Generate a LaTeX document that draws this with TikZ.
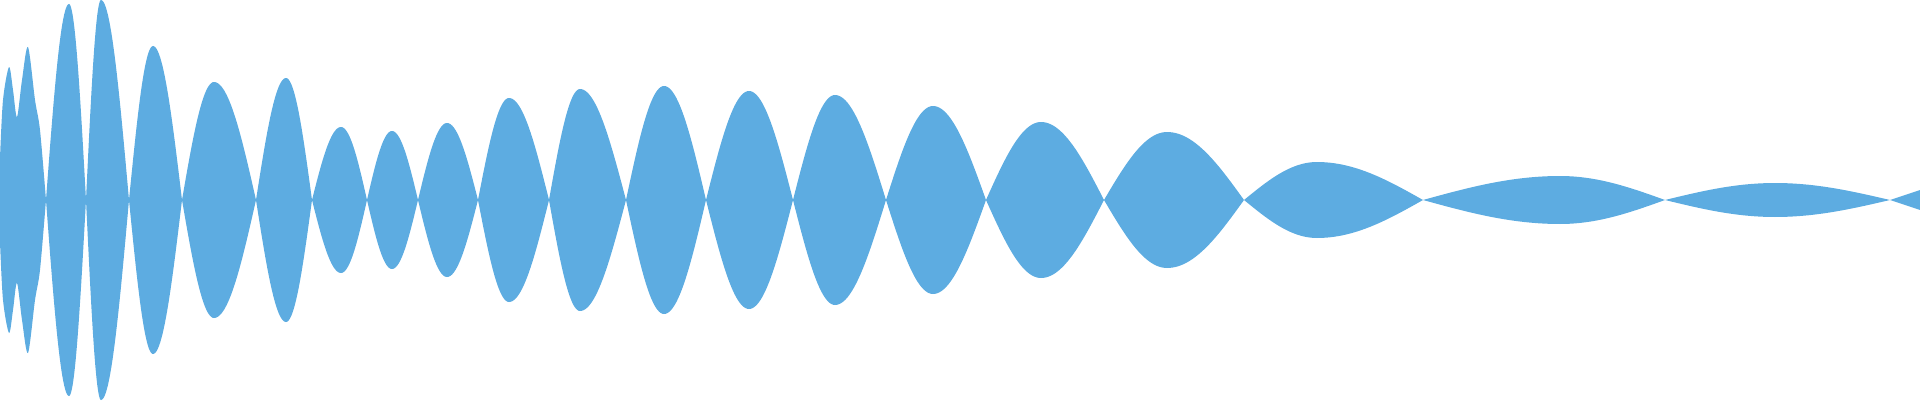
\documentclass[tikz,border=0pt]{standalone}
\definecolor{wavecol}{HTML}{5DACE1}
\newcommand\wlobe[4]{%
 \fill[wave] plot[domain=#1:#2,samples=25] (\x,{200+#4*sin(90*(\x-#1)/(#2-#1))})
 -- plot[domain=#2:#3,samples=25] (\x,{200+#4*sin(90*(#3-\x)/(#3-#2))})
 -- plot[domain=#3:#2,samples=25] (\x,{200-#4*sin(90*(#3-\x)/(#3-#2))})
 -- plot[domain=#2:#1,samples=25] (\x,{200-#4*sin(90*(\x-#1)/(#2-#1))}) -- cycle;}
\begin{document}
\begin{tikzpicture}[x=1pt,y=1pt,wave/.style={fill=wavecol}]
\useasboundingbox (0,0) rectangle (1920,400);
\fill[wave] plot[smooth] coordinates {(0,242)(3,300)(9,333)(13,310)(17,283)(22,320)(28,353)(35,300)(40,270)(46,200)}
  -- plot[smooth] coordinates {(46,200)(40,130)(35,100)(28,47)(22,80)(17,117)(13,90)(9,67)(3,100)(0,158)} -- cycle;
\foreach \a/\p/\b/\h in {46/69/86/196, 86/101/129/200, 129/153/182/154, 182/214/256/118,
  256/286/312/122, 312/341/367/73, 367/392/418/69, 418/447/478/77, 478/509/549/102,
  549/580/626/111, 626/664/706/114, 706/749/793/109, 793/835/886/105, 886/933/986/94,
  986/1041/1104/78, 1104/1167/1244/68, 1244/1317/1423/38, 1423/1560/1665/24, 1665/1775/1890/17}
  {\wlobe{\a}{\p}{\b}{\h}}
\fill[wave] (1890,200) -- (1920,210) -- (1920,190) -- cycle;
\end{tikzpicture}
\end{document}
